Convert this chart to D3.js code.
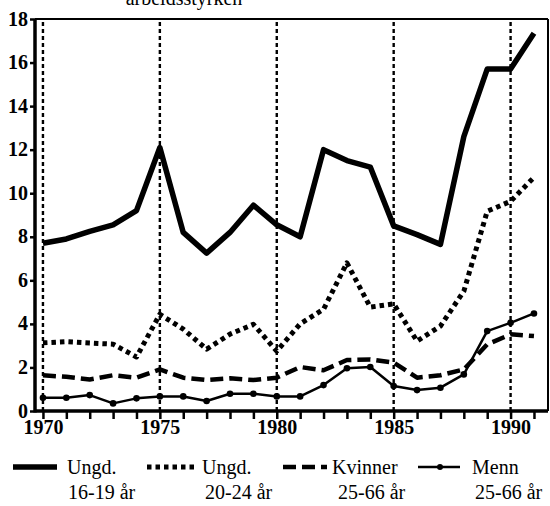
<!DOCTYPE html>
<html>
<head>
<meta charset="utf-8">
<script src="https://cdn.jsdelivr.net/npm/d3@7"></script>
<style>
  html, body { margin: 0; padding: 0; background: #fff; }
  svg { display: block; }
  svg text { font-family: 'Liberation Serif', 'Times New Roman', 'DejaVu Serif', serif !important; fill: #000; }
</style>
</head>
<body>
<svg id="chart" width="550" height="506"></svg>
<script>
const years = d3.range(1970, 1992);
const ungd1619 = [7.7, 7.9, 8.25, 8.55, 9.2, 12.1, 8.2, 7.25, 8.2, 9.45, 8.55, 8.0, 12.0, 11.5, 11.2, 8.5, 8.1, 7.65, 12.6, 15.7, 15.7, 17.35];
const ungd2024 = [3.13, 3.18, 3.12, 3.07, 2.48, 4.44, 3.76, 2.84, 3.53, 3.98, 2.75, 4.0, 4.67, 6.8, 4.77, 4.92, 3.21, 3.9, 5.5, 9.17, 9.63, 10.73];
const kvinner = [1.64, 1.57, 1.45, 1.64, 1.53, 1.91, 1.53, 1.42, 1.5, 1.42, 1.53, 2.02, 1.87, 2.34, 2.37, 2.22, 1.53, 1.64, 1.91, 3.06, 3.52, 3.44];
const menn = [0.61, 0.61, 0.73, 0.35, 0.58, 0.67, 0.67, 0.46, 0.79, 0.79, 0.67, 0.67, 1.19, 1.96, 2.02, 1.15, 0.96, 1.07, 1.68, 3.67, 4.05, 4.48];
const yTicks = [0, 2, 4, 6, 8, 10, 12, 14, 16, 18];
const xLabelYears = [1970, 1975, 1980, 1985, 1990];
const titleText = "arbeidsstyrken";
const legendItems = [
  {name: "Ungd.", sub: "16-19 år"},
  {name: "Ungd.", sub: "20-24 år"},
  {name: "Kvinner", sub: "25-66 år"},
  {name: "Menn", sub: "25-66 år"}
];

const FONT = "font-family:'Liberation Serif','Times New Roman',serif";
const svg = d3.select("#chart");
const x = d3.scaleLinear().domain([1969.66, 1991.6]).range([35, 548]);
const y = d3.scaleLinear().domain([0, 18]).range([411, 19]);

// title (cut off at top)
svg.append("text").attr("x", 184).attr("y", 5).attr("text-anchor", "middle")
  .attr("style", FONT).attr("font-size", 20).text(titleText);

// vertical dashed grid lines
svg.append("g").selectAll("line").data(xLabelYears).join("line")
  .attr("x1", d => x(d)).attr("x2", d => x(d))
  .attr("y1", y(0)).attr("y2", y(18))
  .attr("stroke", "#000").attr("stroke-width", 2.4)
  .attr("stroke-dasharray", "4,3");

// frame top and right
svg.append("line").attr("x1", x.range()[0]).attr("x2", x.range()[1])
  .attr("y1", y(18)).attr("y2", y(18)).attr("stroke", "#000").attr("stroke-width", 2);
svg.append("line").attr("x1", x.range()[1]).attr("x2", x.range()[1])
  .attr("y1", y(18)).attr("y2", y(0)).attr("stroke", "#000").attr("stroke-width", 2);

// x axis
const xAxis = svg.append("g").attr("transform", `translate(0,${y(0)})`)
  .call(d3.axisBottom(x).tickValues(years).tickSize(8)
    .tickFormat(d => xLabelYears.includes(d) ? d : ""));
xAxis.attr("font-family", null);
xAxis.select(".domain").attr("stroke-width", 3.5).attr("d", `M${x.range()[0]},0H${x.range()[1]}`);
xAxis.selectAll(".tick line").attr("stroke-width", 2.5);
xAxis.selectAll(".tick text").attr("style", FONT)
  .attr("font-size", 20).attr("font-weight", "bold").attr("dy", 0).attr("y", 23);

// y axis
const yAxis = svg.append("g").attr("transform", `translate(${x.range()[0]},0)`)
  .call(d3.axisLeft(y).tickValues(yTicks).tickSize(5).tickFormat(d3.format("d")));
yAxis.attr("font-family", null);
yAxis.select(".domain").attr("stroke-width", 3.5).attr("d", `M0,${y(0)+1.5}V${y(18)}`);
yAxis.selectAll(".tick line").attr("stroke-width", 2.5);
yAxis.selectAll(".tick text").attr("style", FONT)
  .attr("font-size", 20).attr("font-weight", "bold").attr("x", -7).attr("dy", "0.3em");

const line = d3.line().x((d, i) => x(years[i])).y(d => y(d));

const styles = [
  {data: ungd1619, w: 5.5, dash: null},
  {data: ungd2024, w: 5, dash: "4.5,4"},
  {data: kvinner, w: 4.5, dash: "13,6"},
  {data: menn, w: 2.5, dash: null}
];
styles.forEach(s => {
  svg.append("path").datum(s.data).attr("d", line)
    .attr("fill", "none").attr("stroke", "#000").attr("stroke-width", s.w)
    .attr("stroke-linejoin", "round")
    .attr("stroke-dasharray", s.dash);
});
svg.append("g").selectAll("circle").data(menn).join("circle")
  .attr("cx", (d, i) => x(years[i])).attr("cy", d => y(d)).attr("r", 3.3).attr("fill", "#000");

// legend
const legX = [13, 147, 283, 418];
const legW = [44, 50, 44, 42];
const legTextX = [67, 202, 332, 472];
const legSubX = [68, 205, 338, 475];
const lineY = 467, row1 = 474, row2 = 499;
legendItems.forEach((it, i) => {
  const s = styles[i];
  svg.append("line").attr("x1", legX[i]).attr("x2", legX[i] + legW[i])
    .attr("y1", lineY).attr("y2", lineY)
    .attr("stroke", "#000").attr("stroke-width", s.w)
    .attr("stroke-dasharray", s.dash);
  if (i === 3) {
    svg.append("circle").attr("cx", legX[i] + legW[i] / 2 + 1).attr("cy", lineY).attr("r", 3).attr("fill", "#000");
  }
  svg.append("text").attr("x", legTextX[i]).attr("y", row1).attr("style", FONT).attr("font-size", 20).text(it.name);
  svg.append("text").attr("x", legSubX[i]).attr("y", row2).attr("style", FONT).attr("font-size", 20).text(it.sub);
});
</script>
</body>
</html>
